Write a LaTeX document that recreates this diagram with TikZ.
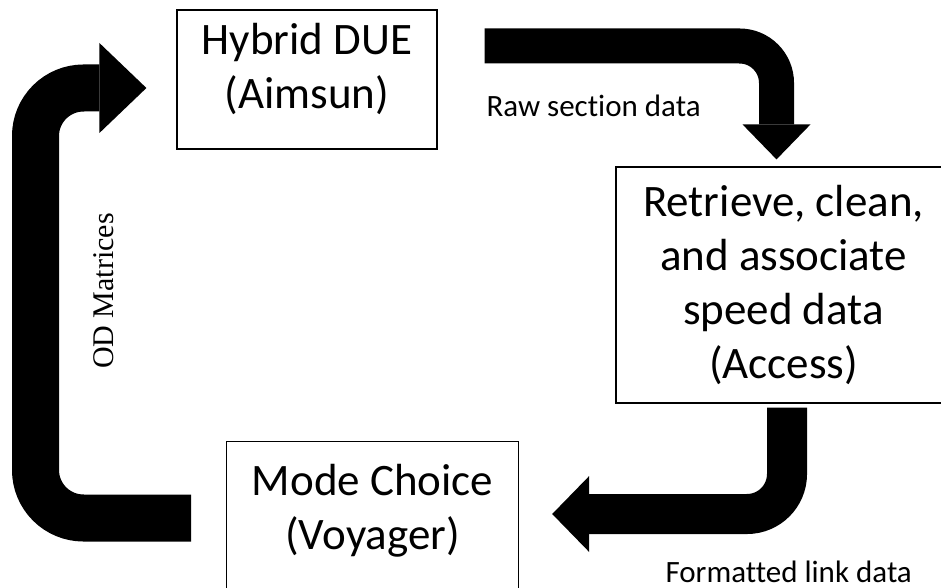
\documentclass[tikz,border=0pt]{standalone}
\usepackage{fontspec}
\setmainfont{Carlito}[Ligatures=CommonOff]
\newfontfamily\odfont{Liberation Serif}
\usetikzlibrary{arrows.meta,calc}

\begin{document}
\begin{tikzpicture}[x=1pt,y=-1pt,
  box/.style={draw,line width=1.2pt,align=center,inner sep=0pt,font=\fontsize{45}{54}\selectfont},
  lbl/.style={font=\fontsize{31}{36}\selectfont}]

\useasboundingbox (0,0) rectangle (941,588);

\node[box,minimum width=260pt,minimum height=139pt,text depth=27pt] (due) at (307,79.5) {Hybrid DUE\\(Aimsun)};
\node[box,minimum width=335pt,minimum height=236pt] (ret) at (783.5,285) {Retrieve, clean,\\and associate\\speed data\\(Access)};
\node[box,anchor=north west,minimum width=292pt,inner ysep=23pt,text depth=32pt] (mode) at (226,441) {Mode Choice\\(Voyager)};

\coordinate (rawstart) at ($(due.east)+(47,-33.5)$);
\coordinate (rawend) at ($(ret.north)+(-7,-7)$);
\draw[line width=35pt,rounded corners=37pt,-{Triangle[length=35pt,width=68pt,line width=0pt]}] (rawstart) -| (rawend);

\coordinate (linkstart) at ($(ret.south)+(3.5,4)$);
\coordinate (linkend) at ($(mode.north east)+(33,73)$);
\draw[line width=40pt,rounded corners=40pt,-{Triangle[length=37pt,width=76pt,line width=0pt]}] (linkstart) |- (linkend);

\coordinate (odstart) at ($(mode.north west)+(-35,77)$);
\coordinate (odend) at ($(due.west)+(-30,8.5)$);
\draw[line width=47pt,rounded corners=48pt,-{Triangle[length=47pt,width=90pt,line width=0pt]}] (odstart) -- ++(-155.5,0) |- (odend);

\node[lbl,anchor=base west] (rawlbl) at (483,117) {Raw section data};
\node[lbl,anchor=base west] (linklbl) at (662,582) {Formatted link data};
\node[font=\odfont\fontsize{30}{36}\selectfont,rotate=90] (odlbl) at (104,291) {OD Matrices};

\end{tikzpicture}
\end{document}
